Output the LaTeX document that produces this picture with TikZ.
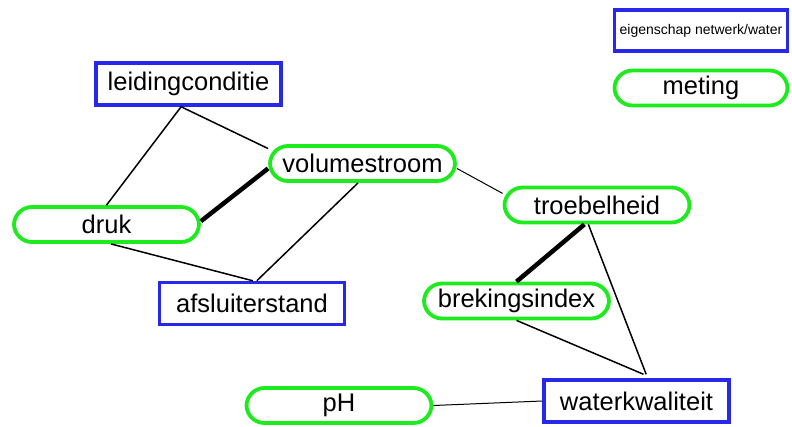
\documentclass[tikz,border=0pt]{standalone}
\usepackage{fontspec}
\setmainfont{Liberation Sans}
\definecolor{propblue}{RGB}{40,40,235}
\definecolor{measgreen}{RGB}{30,235,30}
\begin{document}
\begin{tikzpicture}[x=1pt, y=-1pt,
    property/.style = {rectangle, draw=propblue, line width=3.5pt, minimum width=185pt, minimum height=42pt, inner sep=0pt},
    measurement/.style = {rectangle, rounded corners=18pt, draw=measgreen, line width=3.8pt, minimum width=185pt, minimum height=35pt, inner sep=0pt},
    link/.style = {line width=1.5pt},
    stronglink/.style = {line width=4.5pt},
    font=\fontsize{25.5pt}{30pt}\selectfont]
  \useasboundingbox (0, 0) rectangle (792, 426);

  % Legend.
  \node at (701, 30.5) [property, minimum width=173pt, minimum height=41pt, font=\fontsize{14pt}{16pt}\selectfont, name=LegendProperty] {eigenschap netwerk/water};
  \node at (701, 88) [measurement, minimum width=173pt, name=LegendMeasurement] {meting};

  % Network properties.
  \node at (188.5, 84) [property, name=Leidingconditie] {leidingconditie};
  \node at (252, 303.5) [property, name=Afsluiterstand] {afsluiterstand};
  \node at (636.5, 401) [property, name=Waterkwaliteit] {waterkwaliteit};

  % Measurements.
  \node at (362.5, 163.5) [measurement, name=Volumestroom] {volumestroom};
  \node at (106.5, 224.5) [measurement, name=Druk] {druk};
  \node at (597, 205) [measurement, name=Troebelheid] {troebelheid};
  \node at (516.5, 301) [measurement, name=Brekingsindex] {brekingsindex};
  \node at (339, 405.5) [measurement, name=PH] {pH};

  % Relations.
  \draw [link] (Leidingconditie.252)
               to (Druk.north);
  \draw [link] (Leidingconditie.252)
               to (Volumestroom.171);
  \draw [stronglink] (Druk.2)
               to (Volumestroom.183);
  \draw [link] (Volumestroom.257)
               to (Afsluiterstand.78);
  \draw [link] (Druk.283)
               to (Afsluiterstand.88);
  \draw [link, line width=1pt] (Volumestroom.357)
               to (Troebelheid.173);
  \draw [stronglink] (Troebelheid.237)
               to (Brekingsindex.north);
  \draw [link] (Troebelheid.246)
               to ([yshift=4pt]Waterkwaliteit.67);
  \draw [link] (Brekingsindex.south)
               to ([yshift=4pt]Waterkwaliteit.73);
  \draw [link, line width=1pt] (PH.east)
               to (Waterkwaliteit.west);
\end{tikzpicture}
\end{document}
